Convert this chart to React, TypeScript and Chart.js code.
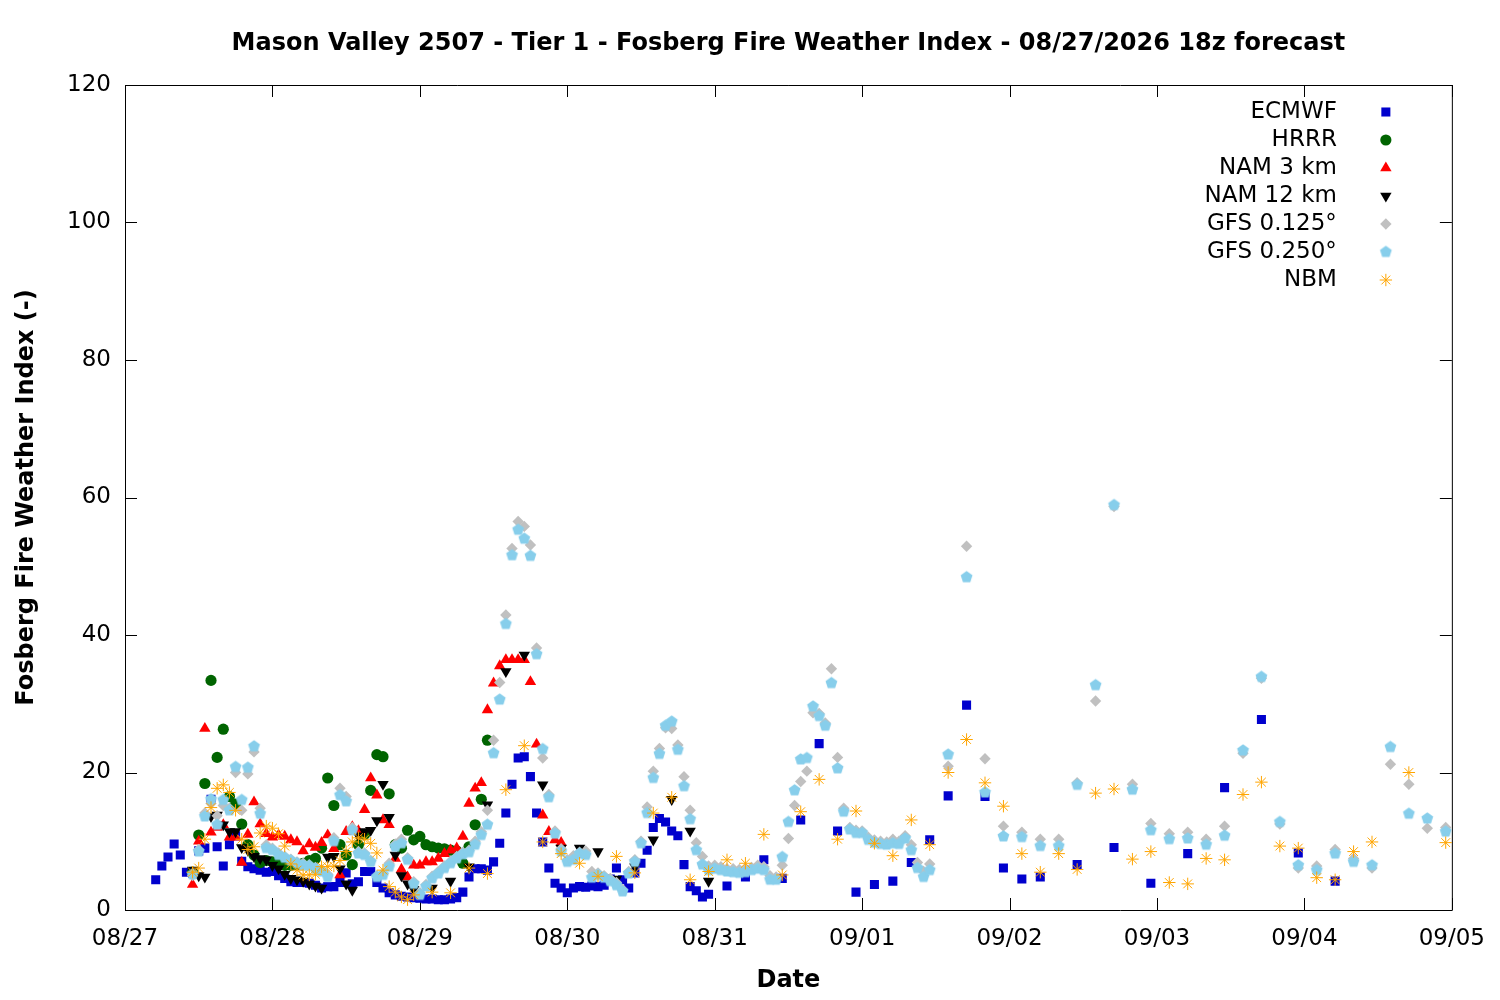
import { useEffect, useRef } from "react"
import { Chart, registerables, ChartConfiguration, Plugin } from "chart.js"
import { drawPoint } from "chart.js/helpers"

Chart.register(...registerables)

const FONT = "DejaVu Sans"
const TITLE = "Mason Valley 2507 - Tier 1 - Fosberg Fire Weather Index - 08/27/2026 18z forecast"

// x axis runs in hours from 08/27 00h local, one label per day
const dateLabels = ["08/27", "08/28", "08/29", "08/30", "08/31", "09/01", "09/02", "09/03", "09/04", "09/05"]
const yMax = 120
const yStep = 20

// ECMWF: hourly from 05h, 3-hourly from 98h, 6-hourly from 155h
const ecmwfHourly = [
  4.4, 6.4, 7.7, 9.6, 8.0, 5.5, 5.3, 8.6, 9.0, 16.1, 9.2, 6.4, 9.5, 10.8, 7.1, 6.3, 6.0, 5.8, 5.5, 5.6,
  5.0, 4.6, 4.1, 4.0, 4.0, 3.9, 3.6, 3.2, 3.4, 3.4, 4.0, 5.4, 3.8, 4.1, 5.6, 5.6, 4.0, 3.2, 2.5, 2.2,
  2.0, 1.9, 1.8, 1.7, 1.6, 1.6, 1.5, 1.5, 1.6, 1.8, 2.6, 4.8, 6.0, 6.0, 5.8, 7.0, 9.7, 14.1, 18.3, 22.1,
  22.3, 19.4, 14.1, 9.9, 6.1, 3.9, 3.2, 2.5, 3.2, 3.4, 3.3, 3.5, 3.4, 3.6, 4.5, 6.1, 4.4, 3.2, 5.4, 6.8,
  8.7, 12.0, 13.3, 12.8, 11.5, 10.8, 6.6, 3.4, 2.8, 1.9, 2.3,
]
const ecmwf3h = [3.5, 4.8, 7.3, 4.6, 13.1, 24.2, 11.5, 2.6, 3.7, 4.2, 6.9, 10.2, 16.6, 29.8, 16.5, 6.1, 4.5, 4.8]
const ecmwf6h = [6.6, 9.1, 3.9, 8.2, 17.8, 27.7, 8.3, 4.2]

// HRRR: hourly from 11h
const hrrrHourly = [
  5.5, 10.9, 18.4, 33.4, 22.2, 26.3, 16.5, 15.4, 12.5, 9.5, 8.0, 6.9, 7.2, 7.0, 6.8, 6.5, 6.5, 6.6, 6.8, 7.2,
  7.5, 9.0, 19.2, 15.2, 9.5, 8.0, 6.6, 9.5, 11.0, 17.4, 22.6, 22.3, 16.9, 9.5, 9.0, 11.6, 10.2, 10.7, 9.5, 9.2,
  9.0, 8.9, 8.7, 8.6, 6.8, 9.2, 12.4, 16.1, 24.7,
]

// NAM 3 km: hourly from 11h
const nam3Hourly = [
  3.7, 10.0, 26.4, 11.3, 12.0, 12.4, 10.6, 10.6, 6.9, 11.0, 15.7, 12.5, 11.1, 10.6, 10.9, 10.7, 10.2, 9.9, 8.6, 9.6,
  9.1, 9.8, 10.9, 8.9, 5.1, 11.4, 12.1, 11.5, 14.6, 19.2, 16.7, 13.1, 12.4, 7.5, 5.9, 4.8, 6.5, 6.5, 7.0, 7.0,
  7.5, 8.2, 8.7, 9.0, 10.7, 15.5, 17.7, 18.5, 29.1, 33.0, 35.5, 36.4, 36.4, 36.4, 36.4, 33.2, 24.1, 13.8, 11.4, 10.2,
  9.8,
]

// NAM 12 km: hourly from 11h, 3-hourly from 50h
const nam12Hourly = [
  5.8, 5.0, 4.8, 13.6, 13.8, 12.4, 11.4, 11.4, 9.1, 8.7, 7.8, 7.5, 7.3, 6.5, 6.0, 5.2, 4.6, 4.4, 4.2, 3.8,
  3.5, 3.2, 7.7, 7.8, 6.0, 3.8, 2.9, 10.8, 11.4, 11.6, 13.0, 18.3, 13.5, 8.0, 5.0, 3.8, 3.0,
]
const nam12_3h = [3.2, 4.2, 6.3, 15.3, 34.7, 37.1, 18.2, 9.0, 9.0, 8.5, 4.5, 6.3, 10.2, 16.1, 11.5, 4.2]

// GFS 0.125: hourly from 11h, 3-hourly from 134h
const gfs125Hourly = [
  5.0, 8.8, 14.1, 15.5, 13.7, 15.2, 14.8, 20.0, 14.5, 19.8, 23.0, 14.8, 9.5, 9.0, 8.3, 7.8, 7.4, 7.0, 6.8, 6.6,
  6.2, 5.9, 5.2, 10.5, 17.7, 16.5, 12.0, 8.5, 8.3, 7.2, 5.0, 5.3, 6.8, 9.6, 10.3, 7.6, 4.1, 2.5, 3.7, 4.9,
  5.6, 6.4, 7.1, 7.8, 8.4, 8.7, 10.0, 11.4, 14.5, 24.7, 33.1, 42.9, 52.6, 56.5, 55.8, 53.1, 38.1, 22.1, 16.8, 11.5,
  8.9, 7.3, 7.9, 8.4, 8.6, 5.6, 5.4, 5.0, 4.6, 4.0, 3.0, 5.6, 7.3, 10.0, 15.0, 20.2, 23.5, 26.5, 26.4, 24.0,
  19.4, 14.5, 9.8, 7.8, 6.4, 6.5, 6.3, 6.0, 6.0, 5.9, 6.0, 6.2, 6.5, 6.3, 5.0, 4.8, 6.5, 10.4, 15.2, 18.7,
  20.2, 28.7, 28.6, 27.2, 35.1, 22.2, 14.8, 12.0, 11.6, 11.5, 10.6, 10.2, 10.0, 9.9, 10.3, 10.0, 10.8, 9.5, 6.9, 5.6,
  6.7,
]
const gfs125_3h = [
  20.9, 52.9, 22.0, 12.2, 11.3, 10.3, 10.3, 18.5, 30.4, 58.7, 18.3, 12.6, 11.1, 11.3, 10.3, 12.2, 22.8, 33.7, 12.5, 6.1,
  6.4, 8.8, 7.5, 6.1, 21.2, 18.3, 11.9, 12.0,
]

// GFS 0.250: hourly from 11h, 3-hourly from 134h
const gfs250Hourly = [
  5.2, 8.5, 13.6, 16.1, 12.4, 16.0, 14.5, 20.8, 16.0, 20.7, 23.8, 14.0, 9.0, 8.7, 8.0, 7.6, 7.2, 6.8, 6.5, 6.4,
  6.0, 5.6, 4.8, 10.0, 16.7, 15.8, 11.6, 8.2, 8.0, 7.0, 4.8, 5.1, 6.3, 9.2, 9.7, 7.3, 3.8, 2.2, 3.4, 4.6,
  5.3, 6.1, 6.8, 7.5, 8.1, 8.4, 9.5, 10.9, 12.4, 22.8, 30.6, 41.6, 51.6, 55.3, 54.0, 51.5, 37.2, 23.4, 16.4, 11.1,
  8.5, 7.0, 7.3, 8.2, 8.0, 4.7, 5.1, 4.7, 4.2, 3.6, 2.7, 5.3, 7.0, 9.7, 14.1, 19.2, 22.7, 26.8, 27.4, 23.3,
  18.0, 13.2, 8.7, 6.6, 5.8, 6.0, 5.8, 5.6, 5.5, 5.4, 5.5, 5.8, 6.0, 5.8, 4.4, 4.4, 7.7, 12.8, 17.4, 21.9,
  22.1, 29.6, 28.2, 26.8, 33.0, 20.6, 14.3, 11.7, 11.2, 11.2, 10.2, 9.8, 9.6, 9.5, 9.7, 9.6, 10.4, 8.7, 6.1, 4.8,
  5.8,
]
const gfs250_3h = [
  22.6, 48.4, 17.1, 10.7, 10.6, 9.3, 9.3, 18.2, 32.7, 58.9, 17.5, 11.6, 10.3, 10.4, 9.5, 10.8, 23.2, 33.9, 12.8, 6.5,
  5.8, 8.2, 7.0, 6.5, 23.7, 14.0, 13.3, 11.4,
]

// NBM: hourly from 11h, 3-hourly from 50h, 6-hourly from 209h
const nbmHourly = [
  5.5, 6.1, 10.3, 14.9, 17.7, 18.2, 17.1, 14.5, 10.3, 8.8, 9.2, 11.2, 12.2, 11.9, 11.1, 9.3, 6.7, 5.8, 5.1, 5.1,
  5.2, 6.3, 6.3, 6.4, 7.2, 8.5, 9.9, 10.5, 10.3, 9.7, 8.3, 5.8, 3.4, 2.6, 1.9, 1.5, 2.2,
]
const nbm3h = [
  2.6, 2.5, 6.1, 5.3, 17.5, 23.9, 9.9, 8.2, 6.8, 4.9, 7.8, 5.4, 14.1, 16.4, 4.4, 5.6, 7.3, 6.8, 11.0, 5.1,
  14.3, 19.0, 10.3, 14.4, 9.7, 7.9, 13.1, 9.5, 20.0, 24.8, 18.5, 15.1, 8.2, 5.5, 8.2, 5.9, 17.0, 17.6, 7.4, 8.5,
  4.0, 3.8, 7.5, 7.3, 16.8, 18.6, 9.3, 9.0, 4.7, 4.4, 8.5, 9.9,
]
const nbm6h = [20.0, 9.8]

function timed(start: number, step: number, values: number[]) {
  return values.map((v, i) => ({ x: start + i * step, y: v }))
}

function pentagon(r: number, color: string) {
  const c = document.createElement("canvas")
  const s = Math.ceil(r * 2 + 2)
  c.width = s
  c.height = s
  const g = c.getContext("2d")!
  g.fillStyle = color
  g.beginPath()
  for (let k = 0; k < 5; k++) {
    const a = -Math.PI / 2 + (k * 2 * Math.PI) / 5
    const px = s / 2 + r * Math.cos(a)
    const py = s / 2 + r * Math.sin(a)
    if (k === 0) g.moveTo(px, py)
    else g.lineTo(px, py)
  }
  g.closePath()
  g.fill()
  return c
}

// gnuplot style border with inward ticks on all four sides
const frame: Plugin = {
  id: "frame",
  beforeDatasetsDraw(chart) {
    const { ctx, chartArea: a, scales } = chart
    const len = 12
    ctx.save()
    ctx.strokeStyle = "#000"
    ctx.lineWidth = 1
    ctx.beginPath()
    ctx.rect(a.left + 0.5, a.top + 0.5, a.right - a.left, a.bottom - a.top)
    scales.x.ticks.forEach(t => {
      const px = Math.round(scales.x.getPixelForValue(t.value)) + 0.5
      ctx.moveTo(px, a.bottom)
      ctx.lineTo(px, a.bottom - len)
      ctx.moveTo(px, a.top)
      ctx.lineTo(px, a.top + len)
    })
    scales.y.ticks.forEach(t => {
      const py = Math.round(scales.y.getPixelForValue(t.value)) + 0.5
      ctx.moveTo(a.left, py)
      ctx.lineTo(a.left + len, py)
      ctx.moveTo(a.right, py)
      ctx.lineTo(a.right - len, py)
    })
    ctx.stroke()
    ctx.restore()
  },
}

// key inside the plot: text right-aligned, sample to its right
const keyBox: Plugin = {
  id: "keyBox",
  afterDatasetsDraw(chart) {
    const { ctx, chartArea: a } = chart
    ctx.save()
    ctx.font = `23px "${FONT}"`
    ctx.textAlign = "right"
    ctx.textBaseline = "middle"
    chart.data.datasets.forEach((ds: any, i) => {
      const y = a.top + 27 + i * 28
      ctx.fillStyle = "#000"
      ctx.fillText(ds.label, a.right - 115, y)
      ctx.fillStyle = ds.backgroundColor
      ctx.strokeStyle = ds.borderColor
      ctx.lineWidth = ds.borderWidth
      drawPoint(ctx, {
        pointStyle: ds.pointStyle,
        radius: ds.pointRadius,
        rotation: ds.pointRotation ?? 0,
        borderWidth: ds.borderWidth,
      }, a.right - 66, y)
    })
    ctx.restore()
  },
}

export default function App() {
  const chartRef = useRef<HTMLCanvasElement>(null)

  useEffect(() => {
    if (!chartRef.current) return
    const ctx = chartRef.current.getContext("2d")
    if (!ctx) return

    const mk = (label: string, data: { x: number; y: number }[], color: string, style: any, radius: number, extra: any = {}) => ({
      label,
      data,
      backgroundColor: color,
      borderColor: color,
      borderWidth: 0,
      pointStyle: style,
      pointRadius: radius,
      pointHoverRadius: radius,
      showLine: false,
      ...extra,
    })

    const datasets = [
      mk("ECMWF", [...timed(5, 1, ecmwfHourly), ...timed(98, 3, ecmwf3h), ...timed(155, 6, ecmwf6h)], "#0000cd", "rect", 6.4),
      mk("HRRR", timed(11, 1, hrrrHourly), "#006400", "circle", 5.6),
      mk("NAM 3 km", timed(11, 1, nam3Hourly), "#ff0000", "triangle", 6.6),
      mk("NAM 12 km", [...timed(11, 1, nam12Hourly), ...timed(50, 3, nam12_3h)], "#000000", "triangle", 6.6, { pointRotation: 180 }),
      mk("GFS 0.125°", [...timed(11, 1, gfs125Hourly), ...timed(134, 3, gfs125_3h)], "#c0c0c0", "rectRot", 5.7),
      mk("GFS 0.250°", [...timed(11, 1, gfs250Hourly), ...timed(134, 3, gfs250_3h)], "#87ceeb", pentagon(6.2, "#87ceeb"), 6.2),
      mk("NBM", [...timed(11, 1, nbmHourly), ...timed(50, 3, nbm3h), ...timed(209, 6, nbm6h)], "#ffa500", "star", 6.2, { borderWidth: 1 }),
    ].map((d, i) => ({ ...d, order: 7 - i }))

    const config: ChartConfiguration = {
      type: "scatter",
      data: { datasets },
      options: {
        responsive: false,
        animation: false,
        layout: { padding: { left: 0, right: 46, top: 0, bottom: 0 } },
        plugins: {
          legend: { display: false },
          tooltip: { enabled: false },
          title: {
            display: true,
            text: TITLE,
            color: "#000",
            fullSize: false,
            font: { family: FONT, size: 24, weight: "bold" },
            padding: { top: 29, bottom: 27.2 },
          },
        },
        scales: {
          x: {
            type: "linear",
            min: 0,
            max: 24 * (dateLabels.length - 1),
            grid: { display: false, drawTicks: false },
            border: { display: false },
            ticks: {
              stepSize: 24,
              padding: 15,
              color: "#000",
              autoSkip: false,
              maxRotation: 0,
              font: { family: FONT, size: 23 },
              callback: (v: any) => dateLabels[Math.round(Number(v) / 24)],
            },
            title: {
              display: true,
              text: "Date",
              color: "#000",
              font: { family: FONT, size: 24, weight: "bold" },
              padding: { top: 0, bottom: 5 },
            },
            afterFit: (s: any) => { s.height = 90 },
          },
          y: {
            min: 0,
            max: yMax,
            grid: { display: false, drawTicks: false },
            border: { display: false },
            ticks: {
              stepSize: yStep,
              padding: 14,
              color: "#000",
              font: { family: FONT, size: 23 },
            },
            title: {
              display: true,
              text: "Fosberg Fire Weather Index (-)",
              color: "#000",
              font: { family: FONT, size: 24, weight: "bold" },
              padding: { top: 12.5, bottom: 0 },
            },
            afterFit: (s: any) => { s.width = 125 },
          },
        },
      },
      plugins: [frame, keyBox],
    }

    const chart = new Chart(ctx, config)
    return () => chart.destroy()
  }, [])

  return (
    <div style={{ position: "absolute", left: 0, top: 0, width: 1500, height: 1000, background: "#fff" }}>
      <canvas ref={chartRef} width={1500} height={1000} />
    </div>
  )
}
